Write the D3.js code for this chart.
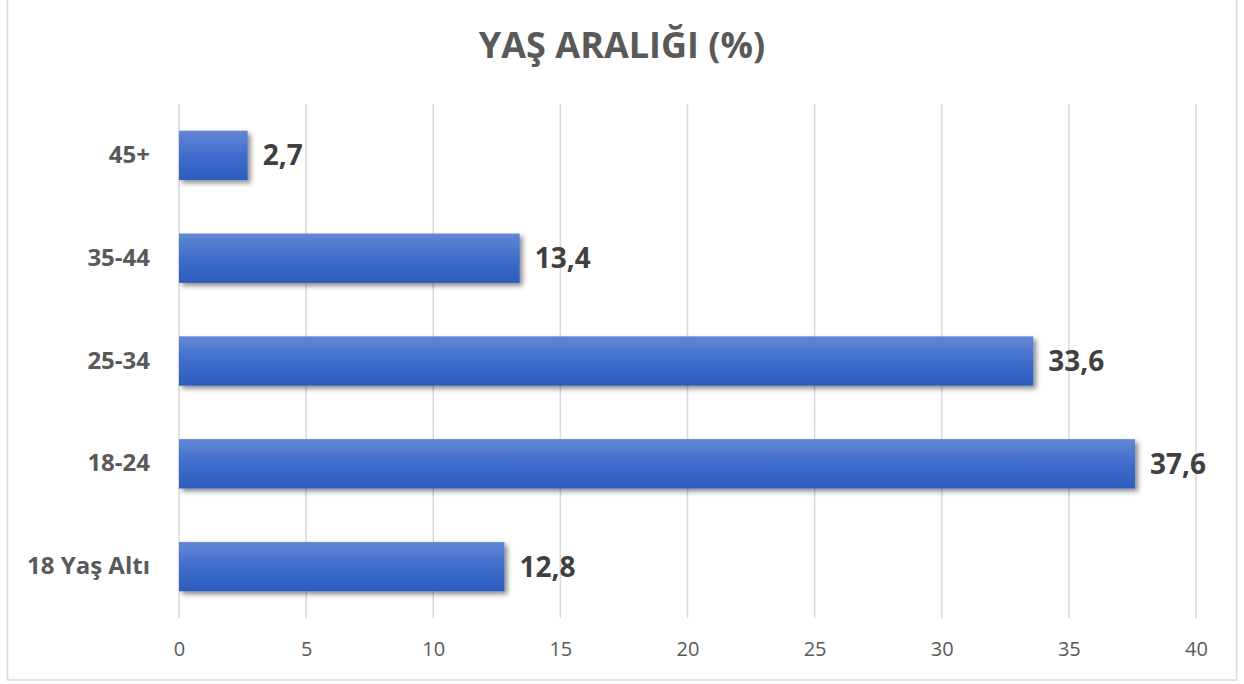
<!DOCTYPE html>
<html><head><meta charset="utf-8">
<script src="https://cdn.jsdelivr.net/npm/d3@7"></script>
<style>
html,body{margin:0;padding:0;background:#fff;}
svg{display:block;font-family:"Open Sans",sans-serif;}
</style></head>
<body>
<svg id="chart" width="1244" height="684"></svg>
<script>
const title = "YAŞ ARALIĞI (%)";
const categories = ["45+", "35-44", "25-34", "18-24", "18 Yaş Altı"];
const values = [2.7, 13.4, 33.6, 37.6, 12.8];
const xTicks = [0, 5, 10, 15, 20, 25, 30, 35, 40];

const svg = d3.select("#chart");
const W = 1244, H = 684;
const m = {left: 179, right: 48, top: 104, bottom: 66};

svg.append("rect").attr("x", 7.5).attr("y", -2).attr("width", 1229).attr("height", 682)
  .attr("fill", "#fff").attr("stroke", "#d9d9d9").attr("stroke-width", 1.5);

const defs = svg.append("defs");
const grad = defs.append("linearGradient").attr("id", "barGrad").attr("x1", 0).attr("y1", 0).attr("x2", 0).attr("y2", 1);
grad.append("stop").attr("offset", "0%").attr("stop-color", "#6387d4");
grad.append("stop").attr("offset", "50%").attr("stop-color", "#3f6dcc");
grad.append("stop").attr("offset", "100%").attr("stop-color", "#2d5cbd");
const f = defs.append("filter").attr("id", "shadow").attr("x", "-10%").attr("y", "-20%").attr("width", "130%").attr("height", "160%");
f.append("feDropShadow").attr("dx", 3).attr("dy", 3).attr("stdDeviation", 2.5).attr("flood-color", "#000").attr("flood-opacity", 0.45);

const x = d3.scaleLinear().domain([0, 40]).range([m.left, W - m.right]);
const y = d3.scaleBand().domain(categories).range([m.top, H - m.bottom]).paddingInner(0.52).paddingOuter(0.26);

// gridlines
svg.append("g").selectAll("line").data(xTicks).join("line")
  .attr("x1", d => x(d)).attr("x2", d => x(d))
  .attr("y1", m.top).attr("y2", H - m.bottom)
  .attr("stroke", "#d9d9d9").attr("stroke-width", 1.5);

// x axis labels
const xAxis = d3.axisBottom(x).tickValues(xTicks).tickSize(0).tickPadding(0).tickFormat(d3.format("d"));
const gx = svg.append("g").attr("transform", `translate(0,656)`).call(xAxis);
gx.select(".domain").remove();
gx.selectAll("text").attr("font-size", 20).attr("fill", "#595959").attr("font-family", "Open Sans, sans-serif").attr("y", 0).attr("dy", 0);

// y axis labels
const yAxis = d3.axisLeft(y).tickSize(0).tickPadding(29);
const gy = svg.append("g").attr("transform", `translate(${m.left},0)`).call(yAxis);
gy.select(".domain").remove();
gy.selectAll("text").attr("font-size", 24).attr("font-weight", "bold").attr("fill", "#595959").attr("font-family", "Open Sans, sans-serif");

// bars
svg.append("g").selectAll("rect").data(values).join("rect")
  .attr("x", x(0)).attr("y", (d, i) => y(categories[i]))
  .attr("width", d => x(d) - x(0)).attr("height", y.bandwidth())
  .attr("fill", "url(#barGrad)").attr("filter", "url(#shadow)");

// value labels
const fmt = v => v.toFixed(1).replace(".", ",");
svg.append("g").selectAll("text").data(values).join("text")
  .attr("x", d => x(d) + 15).attr("y", (d, i) => y(categories[i]) + y.bandwidth() / 2)
  .attr("dy", "0.36em").attr("font-size", 28).attr("font-weight", "bold").attr("fill", "#404040")
  .text(fmt);

// title
svg.append("text").attr("x", 622).attr("y", 58).attr("text-anchor", "middle")
  .attr("font-size", 36).attr("font-weight", "bold").attr("fill", "#595959").text(title);
</script>
</body></html>
